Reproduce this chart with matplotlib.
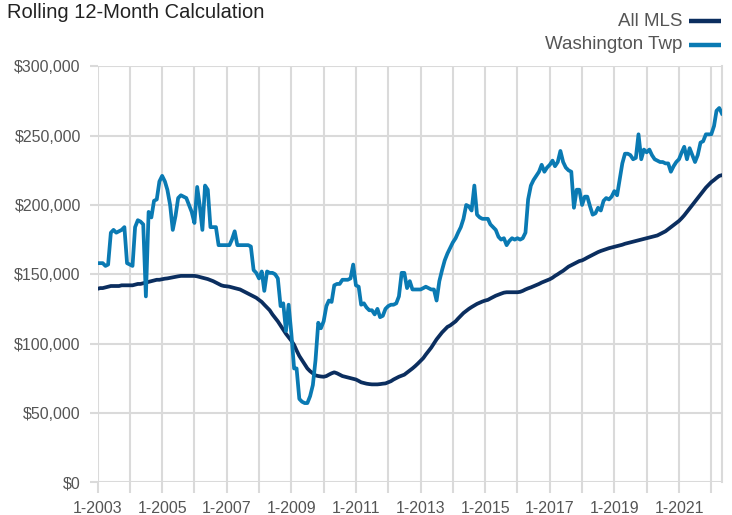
import numpy as np
import pandas as pd
import matplotlib
matplotlib.use("Agg")
import matplotlib.pyplot as plt
import matplotlib.dates as mdates
from matplotlib.lines import Line2D
from matplotlib.ticker import FuncFormatter

plt.rcParams["font.family"] = ["Liberation Sans Narrow", "Liberation Sans", "DejaVu Sans"]

# --- Data (monthly, rolling 12-month, in $1000s) ---
months = pd.date_range("2003-01-01", periods=233, freq="MS")

washington_twp = [
    158, 158, 158, 156, 157, 180, 182, 180, 181, 182, 184, 158,  # 2003
    157, 156, 184, 189, 188, 186, 134, 195, 191, 203, 204, 217,  # 2004
    221, 217, 211, 200, 182, 192, 205, 207, 206, 205, 200, 195,  # 2005
    187, 213, 200, 182, 214, 211, 184, 184, 184, 171, 171, 171,  # 2006
    171, 171, 175, 181, 171, 171, 171, 171, 171, 170, 153, 151,  # 2007
    147, 152, 138, 152, 151, 151, 150, 147, 127, 129, 109, 128,  # 2008
    107, 82, 82, 60, 58, 57, 57, 62, 70, 88, 115, 111,  # 2009
    116, 127, 131, 130, 142, 143, 143, 146, 146, 146, 147, 157,  # 2010
    142, 141, 128, 129, 126, 124, 124, 121, 125, 119, 120, 125,  # 2011
    127, 128, 128, 129, 134, 151, 151, 140, 145, 139, 139, 139,  # 2012
    139, 140, 141, 140, 139, 139, 131, 145, 153, 160, 165, 169,  # 2013
    173, 176, 180, 184, 190, 200, 199, 196, 214, 193, 191, 190,  # 2014
    190, 190, 186, 184, 182, 177, 175, 176, 171, 174, 176, 175,  # 2015
    176, 175, 176, 180, 204, 214, 218, 221, 224, 229, 224, 227,  # 2016
    229, 232, 228, 231, 239, 231, 227, 225, 224, 198, 211, 211,  # 2017
    200, 206, 206, 199, 193, 194, 198, 196, 203, 205, 204, 206,  # 2018
    210, 207, 218, 230, 237, 237, 236, 233, 234, 251, 233, 240,  # 2019
    238, 240, 236, 233, 232, 231, 231, 230, 230, 224, 228, 231,  # 2020
    233, 238, 242, 233, 241, 236, 231, 236, 245, 246, 251, 251,  # 2021
    251, 257, 268, 270, 266,  # 2022
]

all_mls = [
    139.5, 140, 140, 140.5, 141, 141.5, 141.5, 141.5, 141.5, 142, 142, 142,  # 2003
    142, 142, 142.5, 143, 143, 143.5, 144, 144.5, 145, 145.5, 146, 146,  # 2004
    146.4, 146.8, 147, 147.4, 147.8, 148.2, 148.5, 148.8, 148.8, 148.8, 148.8, 148.8,  # 2005
    148.8, 148.5, 148, 147.5, 147, 146.5, 145.8, 145, 144, 143, 142, 141.5,  # 2006
    141.3, 141, 140.5, 140, 139.5, 139, 138, 137, 136, 135, 134, 133,  # 2007
    131.5, 130, 128, 126, 124, 121, 118.5, 116, 113, 110, 107, 104.5,  # 2008
    102, 99, 95, 91, 88, 85, 82, 80, 78.5, 77, 76.5, 76.2,  # 2009
    76, 76.5, 77.5, 78.5, 79.2, 78.5, 77.5, 76.5, 76, 75.5, 75, 74.5,  # 2010
    74, 73, 72, 71.5, 71, 70.7, 70.5, 70.5, 70.5, 70.7, 71, 71.2,  # 2011
    72, 72.8, 74, 75, 76, 76.8, 77.5, 79, 80.5, 82, 83.7, 85.5,  # 2012
    87.5, 89.5, 92, 94.5, 97, 100, 103, 105.5, 108, 110, 112, 113,  # 2013
    114.5, 116, 118, 120, 122, 123.5, 125, 126.3, 127.5, 128.6, 129.5, 130.3,  # 2014
    131, 131.5, 132.5, 133.5, 134.5, 135.3, 136, 136.7, 137, 137, 137, 137,  # 2015
    137, 137.3, 138, 139, 139.8, 140.5, 141.3, 142.2, 143, 144, 144.8, 145.6,  # 2016
    146.4, 147.5, 148.8, 150, 151.3, 152.5, 154, 155.5, 156.5, 157.5, 158.5, 159.5,  # 2017
    160, 161, 162, 163, 164, 165, 166, 166.8, 167.5, 168.2, 168.8, 169.3,  # 2018
    169.8, 170.3, 170.8, 171.3, 172, 172.5, 173, 173.5, 174, 174.5, 175, 175.5,  # 2019
    176, 176.5, 177, 177.5, 178, 179, 180, 181, 182.5, 184, 185.5, 187,  # 2020
    188.5, 190.5, 192.5, 195, 197.5, 200, 202.5, 205, 207.5, 210, 212.5, 214.5,  # 2021
    216.5, 218, 219.5, 221, 221.5,  # 2022
]

y_ticks = [0, 50000, 100000, 150000, 200000, 250000, 300000]
label_years = list(range(2003, 2022, 2))

C_MLS = "#0b2e5f"
C_WASH = "#0a7ab3"
C_GRID = "#dadada"
C_TEXT = "#555555"

fig = plt.figure(figsize=(7.32, 5.15), dpi=100)
ax = fig.add_axes([0.1332, 0.064, 0.853, 0.807])

ax.plot(months, np.array(all_mls) * 1000, color=C_MLS, lw=2.7, zorder=3,
        solid_joinstyle="round")
ax.plot(months, np.array(washington_twp) * 1000, color=C_WASH, lw=2.7, zorder=4,
        solid_joinstyle="round")

ax.set_ylim(0, 300000)
ax.set_xlim(months[0], months[-1])
ax.set_yticks(y_ticks)
ax.yaxis.set_major_formatter(FuncFormatter(lambda v, p: f"${v:,.0f}"))

ax.xaxis.set_major_locator(mdates.YearLocator(1, month=1, day=1))
ax.xaxis.set_major_formatter(FuncFormatter(
    lambda v, p: f"1-{mdates.num2date(v).year}" if mdates.num2date(v).year in label_years else ""))

ax.grid(True, color=C_GRID, lw=1.5)
ax.set_axisbelow(True)
for side in ["top", "bottom", "left"]:
    ax.spines[side].set_visible(False)
ax.spines["right"].set_color(C_GRID)
ax.spines["right"].set_linewidth(1.5)

ax.tick_params(axis="y", length=6, width=1.5, color=C_GRID, labelcolor=C_TEXT,
               labelsize=11.5, pad=6)
ax.tick_params(axis="x", length=8, width=1.5, color=C_GRID, labelcolor=C_TEXT,
               labelsize=11.5, pad=6)

# Title and legend
fig.text(0.009, 0.975, "Rolling 12-Month Calculation", fontsize=14.5,
         color="#222222", ha="left", va="center")

legend_items = [("All MLS", C_MLS, 0.959), ("Washington Twp", C_WASH, 0.913)]
for name, col, yy in legend_items:
    fig.text(0.932, yy, name, fontsize=13.5, color=C_TEXT, ha="right", va="center")
    fig.add_artist(Line2D([0.941, 0.985], [yy, yy], transform=fig.transFigure,
                          color=col, lw=3.2, solid_capstyle="butt"))

fig.savefig("out.png", dpi=100)
